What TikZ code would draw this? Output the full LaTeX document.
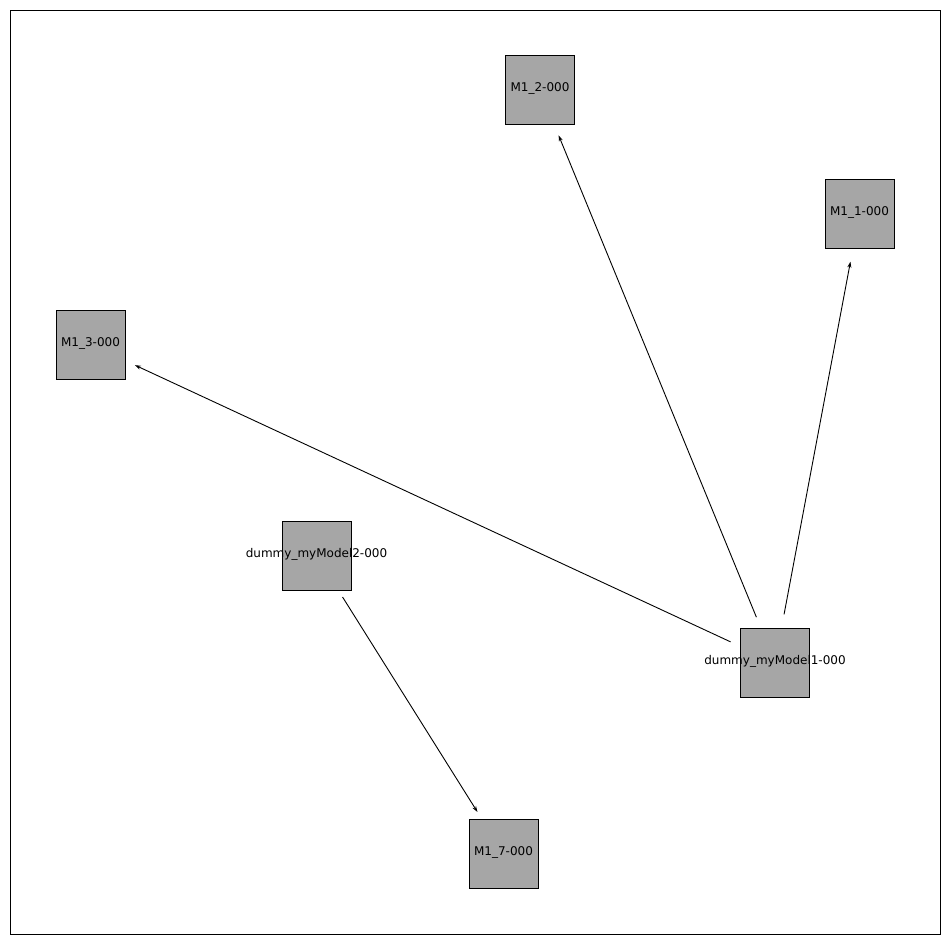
\documentclass[tikz,border=0pt]{standalone}
\usepackage{fontspec}
\setmainfont{DejaVu Sans}
\usetikzlibrary{arrows.meta}
\begin{document}
\begin{tikzpicture}[x=1pt,y=-1pt,
  box/.style={draw=black,fill=black!35,minimum size=69pt,inner sep=0pt,line width=0.8pt},
  lbl/.style={font=\fontsize{12}{14}\selectfont,inner sep=0pt,anchor=center},
  edge/.style={-{Stealth[length=6pt,width=4pt]},line width=0.9pt,shorten <=49pt,shorten >=49pt}]
\useasboundingbox (0,0) rectangle (950,944);
\draw[line width=0.8pt] (10,10) rectangle (940,934);
\foreach \n/\x/\y/\t in {m2/540/90/M1\_2-000, m1/859.5/213.5/M1\_1-000, m3/90.5/344.5/M1\_3-000,
  d2/316.5/555.5/dummy\_myModel2-000, d1/775/662.5/dummy\_myModel1-000, m7/503.5/853.5/M1\_7-000}{
  \node[box] (\n) at (\x,\y) {};
  \node[lbl] (\n t) at (\x,\y-1.5) {\t};
}
\draw[edge] (d1.center) -- (m2.center);
\draw[edge] (d1.center) -- (m1.center);
\draw[edge] (d1.center) -- (m3.center);
\draw[edge] (d2.center) -- (m7.center);
\end{tikzpicture}
\end{document}
